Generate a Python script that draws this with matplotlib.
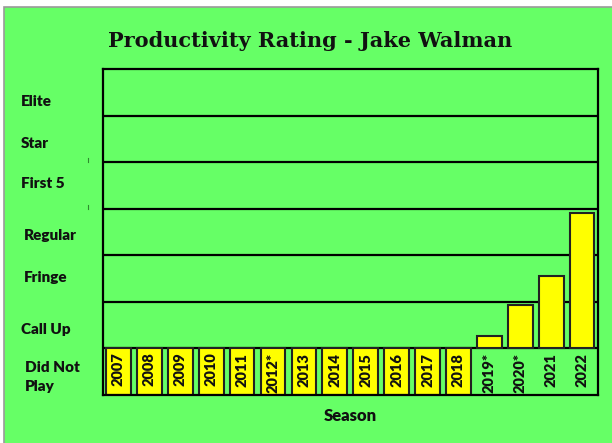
import matplotlib
matplotlib.use("Agg")
import matplotlib.pyplot as plt
from matplotlib.patches import Rectangle
from matplotlib.lines import Line2D

# ---- data ----
seasons = ["2007", "2008", "2009", "2010", "2011", "2012*", "2013", "2014",
           "2015", "2016", "2017", "2018", "2019*", "2020*", "2021", "2022"]
# None = did not play; otherwise rating on the 1..7 scale (1 = Call Up floor)
ratings = [None, None, None, None, None, None, None, None,
           None, None, None, None, 1.26, 1.94, 2.55, 3.91]
rating_levels = ["Did Not\nPlay", "Call Up", "Fringe", "Regular", "First 5", "Star", "Elite"]
title = "Productivity Rating - Jake Walman"
xlabel = "Season"

GREEN = "#66FF66"
YELLOW = "#FFFF00"
W, H = 612, 443

fig = plt.figure(figsize=(W / 100, H / 100), dpi=100, facecolor="white")

def fx(px):
    return px / W

def fy(py):
    return 1 - py / H

# outer green panel with gray border (top/left visible)
fig.add_artist(Rectangle((fx(4), fy(H + 5)), fx(W + 10 - 4), fy(7.5) - fy(H + 5),
                         transform=fig.transFigure, facecolor=GREEN,
                         edgecolor="#9a9a9a", linewidth=1.2, zorder=0))

left, right, top, bottom = 103, 597.5, 69.3, 395
ax = fig.add_axes([fx(left), fy(bottom), fx(right - left), (bottom - top) / H])
ax.set_facecolor(GREEN)
ax.set_xlim(-0.5, len(seasons) - 0.5)
ax.set_ylim(0, 7)
for y in range(1, 7):
    ax.axhline(y, color="black", lw=1.6, zorder=1)
for s in ax.spines.values():
    s.set_color("black")
    s.set_linewidth(1.6)
ax.set_xticks([])
ax.set_yticks([])

x = list(range(len(seasons)))
dnp_x = [i for i, r in zip(x, ratings) if r is None]
play_x = [i for i, r in zip(x, ratings) if r is not None]
play_v = [r for r in ratings if r is not None]

ax.bar(dnp_x, [1] * len(dnp_x), bottom=0, width=0.8, color=YELLOW,
       edgecolor="#222222", linewidth=1.5, zorder=2)
ax.bar(play_x, [v - 1 for v in play_v], bottom=1, width=0.8, color=YELLOW,
       edgecolor="#222222", linewidth=1.5, zorder=2)

FW = 800
for i, s in zip(x, seasons):
    ax.text(i, 0.91, s, rotation=90, ha="center", va="top",
            fontsize=10.5, fontweight=FW, family="Lato", color="#111111",
            zorder=3, clip_on=True)

# level labels on the left (pixel positions as in the original)
label_pos = {"Elite": (21, 102), "Star": (21, 143), "First 5": (21, 184),
             "Regular": (24, 235), "Fringe": (24, 277), "Call Up": (21, 329),
             "Did Not\nPlay": (25, 377)}
for lab in rating_levels:
    px, py = label_pos[lab]
    fig.text(fx(px), fy(py), lab, ha="left", va="center", fontsize=11,
             fontweight=FW, family="Lato", color="#111111",
             linespacing=1.55)

# small stray tick marks
for py in (160, 207):
    fig.add_artist(Line2D([fx(88), fx(88)], [fy(py - 2), fy(py + 2)],
                          transform=fig.transFigure, color="#2e8b2e", lw=0.8))

fig.text(fx(310), fy(41), title, ha="center", va="center", fontsize=15,
         fontweight="bold", family="DejaVu Serif", color="#111111")
fig.text(fx(350), fy(416), xlabel, ha="center", va="center", fontsize=12,
         fontweight=FW, family="Lato", color="#111111")

fig.savefig("out.png", dpi=100, facecolor="white")
